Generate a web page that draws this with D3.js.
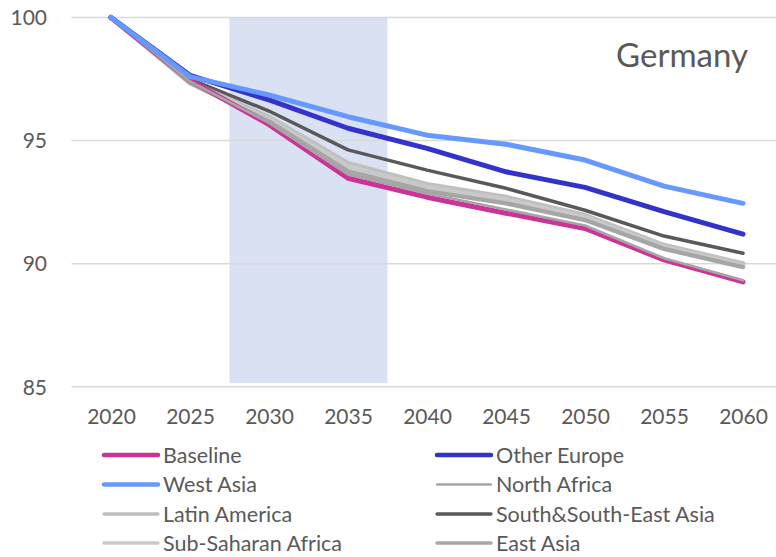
<!DOCTYPE html>
<html>
<head>
<meta charset="utf-8">
<script src="https://cdn.jsdelivr.net/npm/d3@7"></script>
<style>
  html, body { margin: 0; padding: 0; background: #fff; }
  svg { display: block; font-family: Lato, "Open Sans", sans-serif; }
</style>
</head>
<body>
<svg id="chart" width="776" height="557"></svg>
<script>
// Years on the category axis
const years = [2020, 2025, 2030, 2035, 2040, 2045, 2050, 2055, 2060];
const yTicks = [85, 90, 95, 100];

// Index values (2020 = 100) per scenario
const baseline        = [100, 97.45, 95.65, 93.47, 92.70, 92.05, 91.43, 90.15, 89.26];
const otherEurope     = [100, 97.65, 96.65, 95.50, 94.68, 93.73, 93.10, 92.11, 91.20];
const westAsia        = [100, 97.60, 96.85, 95.97, 95.22, 94.85, 94.21, 93.15, 92.45];
const northAfrica     = [100, 97.40, 95.72, 93.62, 92.85, 92.20, 91.55, 90.22, 89.32];
const latinAmerica    = [100, 97.38, 95.95, 94.08, 93.22, 92.70, 91.97, 90.75, 90.00];
const southEastAsia   = [100, 97.50, 96.20, 94.62, 93.80, 93.06, 92.17, 91.12, 90.42];
const subSaharan      = [100, 97.36, 95.85, 93.95, 93.10, 92.60, 91.87, 90.68, 89.92];
const eastAsia        = [100, 97.34, 95.78, 93.75, 92.95, 92.45, 91.77, 90.60, 89.86];

// Highlighted period (in years) and its vertical extent
const bandYears = [2027.5, 2037.5];
const bandValues = [85.15, 100];

const title = "Germany";

const series = [
  { name: "Baseline",              values: baseline,      color: "#CC3399", width: 5.0, legendWidth: 4.5 },
  { name: "Other Europe",          values: otherEurope,   color: "#3333CC", width: 5.0, legendWidth: 4.5 },
  { name: "West Asia",             values: westAsia,      color: "#6699FF", width: 5.0, legendWidth: 4.5 },
  { name: "North Africa",          values: northAfrica,   color: "#A6A6A6", width: 2.6, legendWidth: 2.3 },
  { name: "Latin America",         values: latinAmerica,  color: "#BFBFBF", width: 4.8, legendWidth: 3.3 },
  { name: "South&South-East Asia", values: southEastAsia, color: "#595959", width: 3.5, legendWidth: 3.3 },
  { name: "Sub-Saharan Africa",    values: subSaharan,    color: "#C9C9C9", width: 4.8, legendWidth: 3.3 },
  { name: "East Asia",             values: eastAsia,      color: "#A6A6A6", width: 4.3, legendWidth: 3.3 }
];
// Drawing order: greys first so coloured scenarios sit on top where they overlap
const drawOrder = ["South&South-East Asia", "Latin America", "Sub-Saharan Africa", "East Asia",
                   "Baseline", "North Africa", "Other Europe", "West Asia"];

const svg = d3.select("#chart");
const plotLeft = 71.5, plotRight = 782.5;

const x = d3.scalePoint().domain(years).range([111, 743]);
const xYear = d3.scaleLinear().domain([2020, 2060]).range([111, 743]);
const y = d3.scaleLinear().domain([85, 100]).range([386.7, 17.5]);

// Shaded period
svg.append("rect")
  .attr("x", xYear(bandYears[0]))
  .attr("y", y(bandValues[1]))
  .attr("width", xYear(bandYears[1]) - xYear(bandYears[0]))
  .attr("height", y(bandValues[0]) - y(bandValues[1]))
  .attr("fill", "#D9E1F2");

// Horizontal gridlines
svg.append("g").selectAll("line").data(yTicks).join("line")
  .attr("x1", plotLeft).attr("x2", plotRight)
  .attr("y1", d => y(d)).attr("y2", d => y(d))
  .attr("stroke", "#D9D9D9").attr("stroke-width", 1.5);

// Y axis labels
const yAxis = d3.axisLeft(y).tickValues(yTicks).tickSize(0).tickPadding(0);
const gy = svg.append("g").attr("transform", "translate(47,0)").call(yAxis);
gy.select(".domain").remove();
gy.selectAll("text").attr("fill", "#595959").style("font-size", "21px")
  .style("font-family", "Lato, sans-serif").attr("dy", "0.35em");

// X axis labels
const xAxis = d3.axisBottom(x).tickSize(0).tickPadding(0);
const gx = svg.append("g").attr("transform", "translate(0,408)").call(xAxis);
gx.select(".domain").remove();
gx.selectAll("text").attr("fill", "#595959").style("font-size", "21px")
  .style("font-family", "Lato, sans-serif").attr("dy", "0.75em");

// Scenario lines
const line = d3.line().x((d, i) => x(years[i])).y(d => y(d));
const byName = new Map(series.map(s => [s.name, s]));
svg.append("g").selectAll("path").data(drawOrder.map(n => byName.get(n))).join("path")
  .attr("d", d => line(d.values))
  .attr("fill", "none")
  .attr("stroke", d => d.color)
  .attr("stroke-width", d => d.width)
  .attr("stroke-linejoin", "round")
  .attr("stroke-linecap", "round");

// Title
svg.append("text").attr("x", 748).attr("y", 67).attr("text-anchor", "end")
  .attr("fill", "#595959").style("font-size", "33px").text(title);

// Legend, two columns
const legend = svg.append("g");
const colX = [104, 437];
const rowY = [455, 484.5, 514, 543];
series.forEach((s, i) => {
  const cx = colX[i % 2], cy = rowY[Math.floor(i / 2)];
  legend.append("line")
    .attr("x1", cx).attr("x2", cx + 54).attr("y1", cy).attr("y2", cy)
    .attr("stroke", s.color).attr("stroke-width", s.legendWidth)
    .attr("stroke-linecap", "round");
  legend.append("text")
    .attr("x", cx + 59).attr("y", cy).attr("dy", "0.35em")
    .attr("fill", "#595959").style("font-size", "21.5px").text(s.name);
});
</script>
</body>
</html>
